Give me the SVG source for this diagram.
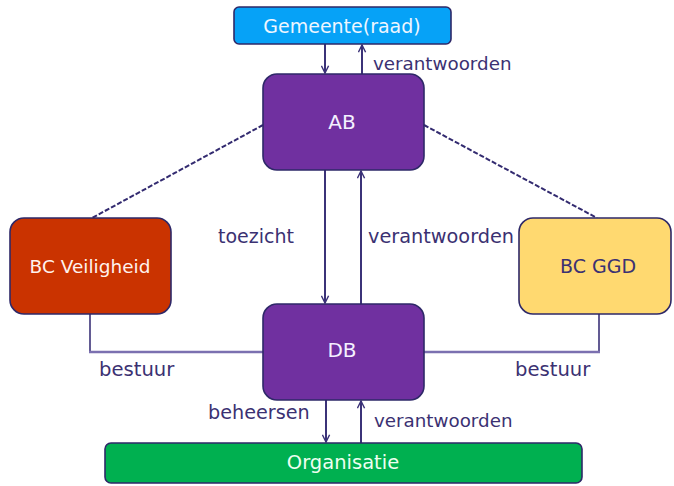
<svg xmlns="http://www.w3.org/2000/svg" width="674" height="486" viewBox="0 0 674 486">
  <defs>
    <marker id="arrow" viewBox="0 0 10 10" refX="9" refY="5" markerWidth="9" markerHeight="9" markerUnits="userSpaceOnUse" orient="auto">
      <path d="M1,1 L9,5 L1,9" fill="none" stroke="#3B3278" stroke-width="1.6"/>
    </marker>
    <style>
      .node { stroke: #2E2868; stroke-width: 1.6; }
      .ntext { font-family: "DejaVu Sans", sans-serif; text-anchor: middle; dominant-baseline: central; }
      .lbl { font-family: "DejaVu Sans", sans-serif; fill: #3B3172; }
      .flow { stroke: #3B3278; stroke-width: 2; fill: none; }
      .dash { stroke: #332B70; stroke-width: 2; stroke-dasharray: 5 2; fill: none; }
      .bar { stroke: #7B70B0; stroke-width: 2.6; fill: none; }
      .post { stroke: #3B3278; stroke-width: 1.6; fill: none; }
    </style>
  </defs>

  <!-- connectors -->
  <g id="connectors">
    <!-- advisory links (dashed) -->
    <line class="dash" x1="263" y1="125" x2="92" y2="218"/>
    <line class="dash" x1="424" y1="125" x2="597" y2="218"/>
    <!-- governance bars -->
    <polyline class="post" points="90,314 90,352"/>
    <line class="bar" x1="89" y1="352" x2="263" y2="352"/>
    <polyline class="post" points="599,314 599,352"/>
    <line class="bar" x1="424" y1="352" x2="600" y2="352"/>
    <!-- vertical flows -->
    <line class="flow" x1="325" y1="44" x2="325" y2="73" marker-end="url(#arrow)"/>
    <line class="flow" x1="362" y1="74" x2="362" y2="45" marker-end="url(#arrow)"/>
    <line class="flow" x1="325" y1="170" x2="325" y2="303" marker-end="url(#arrow)"/>
    <line class="flow" x1="361" y1="304" x2="361" y2="171" marker-end="url(#arrow)"/>
    <line class="flow" x1="326" y1="400" x2="326" y2="442" marker-end="url(#arrow)"/>
    <line class="flow" x1="361" y1="443" x2="361" y2="401" marker-end="url(#arrow)"/>
  </g>

  <!-- connector labels -->
  <g id="labels">
    <text class="lbl" x="373" y="70" font-size="18.3">verantwoorden</text>
    <text class="lbl" x="218" y="243" font-size="19">toezicht</text>
    <text class="lbl" x="368" y="243" font-size="19.3">verantwoorden</text>
    <text class="lbl" x="99" y="376" font-size="19.6">bestuur</text>
    <text class="lbl" x="515" y="376" font-size="19.6">bestuur</text>
    <text class="lbl" x="208" y="419" font-size="19.2">beheersen</text>
    <text class="lbl" x="374" y="427" font-size="18.3">verantwoorden</text>
  </g>

  <g id="gemeente">
    <rect class="node" x="234" y="7" width="217" height="37" rx="5" fill="#06A2F7"/>
    <text class="ntext" x="342" y="25.5" font-size="19" fill="#EEF6FF">Gemeente(raad)</text>
  </g>

  <g id="ab">
    <rect class="node" x="263" y="74" width="161" height="96" rx="14" fill="#7030A0"/>
    <text class="ntext" x="342" y="121.5" font-size="20" fill="#F4F0FF">AB</text>
  </g>

  <g id="db">
    <rect class="node" x="263" y="304" width="161" height="96" rx="14" fill="#7030A0"/>
    <text class="ntext" x="342" y="349.5" font-size="20" fill="#F4F0FF">DB</text>
  </g>

  <g id="bc-veiligheid">
    <rect class="node" x="10" y="218" width="161" height="96" rx="14" fill="#CA3300"/>
    <text class="ntext" x="90" y="266" font-size="18.5" fill="#FFF2EE">BC Veiligheid</text>
  </g>

  <g id="bc-ggd">
    <rect class="node" x="519" y="218" width="152" height="96" rx="14" fill="#FFD970"/>
    <text class="ntext" x="598" y="266" font-size="19" fill="#3B3172">BC GGD</text>
  </g>

  <g id="organisatie">
    <rect class="node" x="105" y="443" width="477" height="40" rx="6" fill="#00B050"/>
    <text class="ntext" x="343" y="462.5" font-size="19.5" fill="#EEFFF0">Organisatie</text>
  </g>
</svg>
